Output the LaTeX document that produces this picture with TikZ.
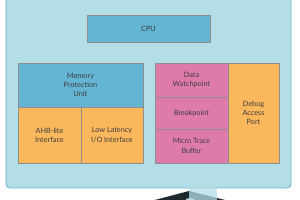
\documentclass[tikz,border=0pt]{standalone}
\usepackage{fontspec}
\setmainfont{Lato}
\definecolor{bgblue}{HTML}{B3DDE7}
\definecolor{bgline}{HTML}{6DB5D0}
\definecolor{cpublue}{HTML}{63B5D3}
\definecolor{orng}{HTML}{FBB75C}
\definecolor{pnk}{HTML}{DF7BAB}
\definecolor{gline}{HTML}{8E8E8E}
\definecolor{txt}{HTML}{3E3E3E}
\definecolor{chip}{HTML}{1E2A2E}
\begin{document}
\begin{tikzpicture}[x=1pt,y=-1pt,
  blk/.style={draw=gline,line width=0.9pt,inner sep=0pt,outer sep=0pt,anchor=north west,
    align=center,text=txt,font=\fontsize{7.3}{9.3}\selectfont},
  bluebox/.style={blk,fill=cpublue},
  orbox/.style={blk,fill=orng},
  pkbox/.style={blk,fill=pnk}]
\useasboundingbox (0,0) rectangle (300,200);
\clip (0,0) rectangle (300,200);
\fill[white] (0,0) rectangle (300,200);
% chip below
\fill[chip] (151,201) -- (189,191) -- (229,201) -- cycle;
\fill[gray!60!cyan!40] (190,201) ellipse (5pt and 3pt);
% background panel
\draw[fill=bgblue,draw=bgline,line width=0.9pt,rounded corners=4pt] (6,-10) rectangle (291,188);
\fill[bgblue,opacity=0.75] (188.5,187.5) rectangle (216.5,201);
% boxes
\node[bluebox,minimum width=123pt,minimum height=27pt] (cpu) at (87,15) {CPU};
\node[bluebox,minimum width=125pt,minimum height=44pt] (mpu) at (18,63) {Memory\\Protection\\Unit};
\node[orbox,minimum width=63pt,minimum height=56pt] (ahb) at (18,107) {AHB-lite\\Interface};
\node[orbox,minimum width=62pt,minimum height=56pt] (lli) at (81,107) {Low Latency\\I/O Interface};
\node[pkbox,minimum width=73pt,minimum height=34pt] (dw) at (155,63) {Data\\Watchpoint};
\node[pkbox,minimum width=73pt,minimum height=32pt] (bp) at (155,97) {Breakpoint};
\node[pkbox,minimum width=73pt,minimum height=34pt] (mtb) at (155,129) {Micro Trace\\Buffer};
\node[orbox,minimum width=51pt,minimum height=100pt] (dap) at (228,63) {Debug\\Access\\Port};
\end{tikzpicture}
\end{document}
